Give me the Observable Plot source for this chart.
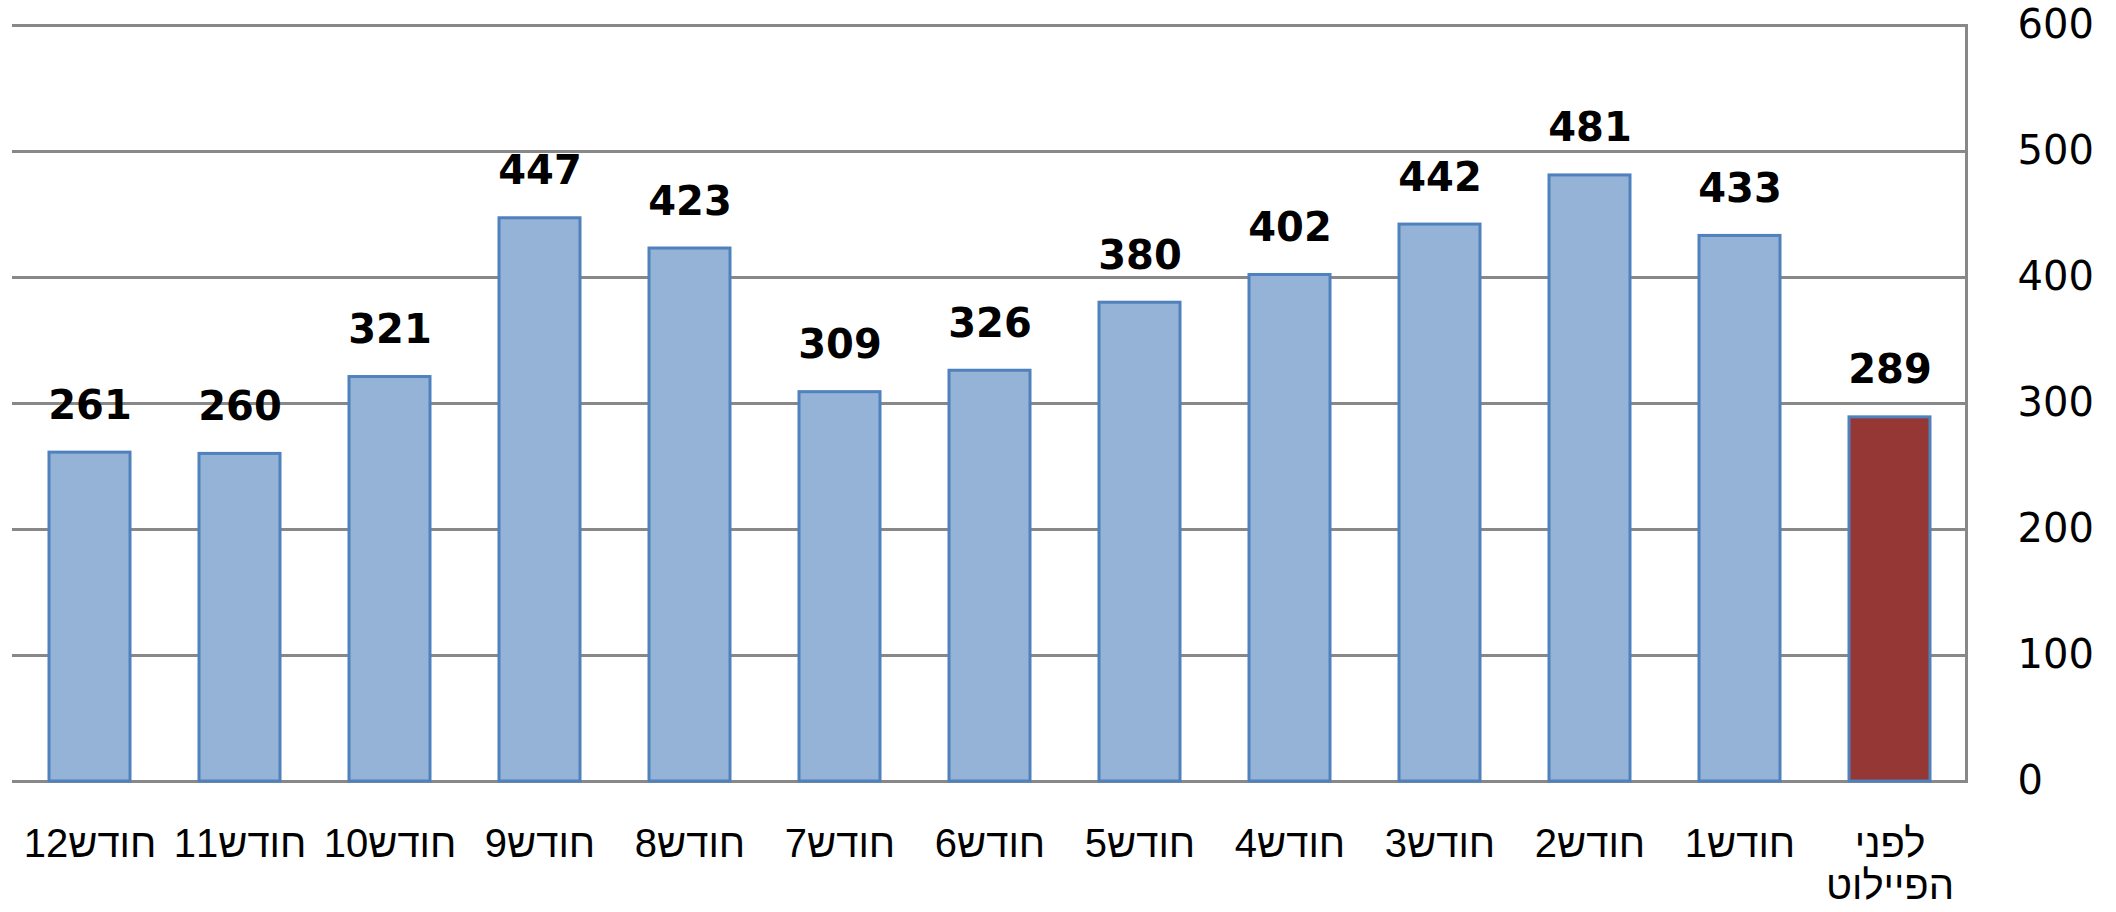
<!DOCTYPE html>
<html>
<head>
<meta charset="utf-8">
<script src="https://cdn.jsdelivr.net/npm/d3@7"></script>
<script src="https://cdn.jsdelivr.net/npm/@observablehq/plot@0.6"></script>
<style>
  html, body { margin: 0; padding: 0; background: #fff; }
  #chart { width: 2116px; height: 912px; }
</style>
</head>
<body>
<div id="chart"></div>
<script>
const categories = ["חודש12", "חודש11", "חודש10", "חודש9", "חודש8", "חודש7", "חודש6", "חודש5", "חודש4", "חודש3", "חודש2", "חודש1", "לפני\nהפיילוט"];
const values = [261, 260, 321, 447, 423, 309, 326, 380, 402, 442, 481, 433, 289];
const baselineCategory = "לפני\nהפיילוט";
const yTicks = [0, 100, 200, 300, 400, 500, 600];

const data = categories.map((c, i) => ({category: c, value: values[i]}));

const chart = Plot.plot({
  width: 2116,
  height: 912,
  marginLeft: 12,
  marginRight: 150,
  marginTop: 25,
  marginBottom: 131,
  style: {background: "#fff"},
  x: {domain: categories, paddingInner: 0.46, paddingOuter: 0.23, label: null},
  y: {domain: [0, 600], ticks: yTicks, label: null},
  marks: [
    Plot.gridY(yTicks, {stroke: "#888888", strokeOpacity: 1, strokeWidth: 3}),
    Plot.frame({anchor: "right", stroke: "#888888", strokeWidth: 3}),
    Plot.barY(data, {
      x: "category",
      y: "value",
      fill: d => d.category === baselineCategory ? "#953735" : "#95B3D7",
      stroke: "#4F81BD",
      strokeWidth: 3
    }),
    Plot.text(data, {
      x: "category",
      y: "value",
      text: d => String(d.value),
      dy: -34,
      lineAnchor: "bottom",
      fontSize: 40,
      fontWeight: "bold",
      fontFamily: "DejaVu Sans",
      fill: "#000"
    }),
    Plot.axisY(yTicks, {
      anchor: "right",
      tickSize: 0,
      tickPadding: 51,
      textAnchor: "start",
      fontSize: 40,
      fontFamily: "DejaVu Sans",
      fill: "#000",
      label: null
    }),
    Plot.axisX({
      anchor: "bottom",
      tickSize: 0,
      tickPadding: 46,
      fontSize: 40,
      fontFamily: "Liberation Sans",
      lineHeight: 1.05,
      fill: "#000",
      label: null
    })
  ]
});

document.getElementById("chart").appendChild(chart);
</script>
</body>
</html>
